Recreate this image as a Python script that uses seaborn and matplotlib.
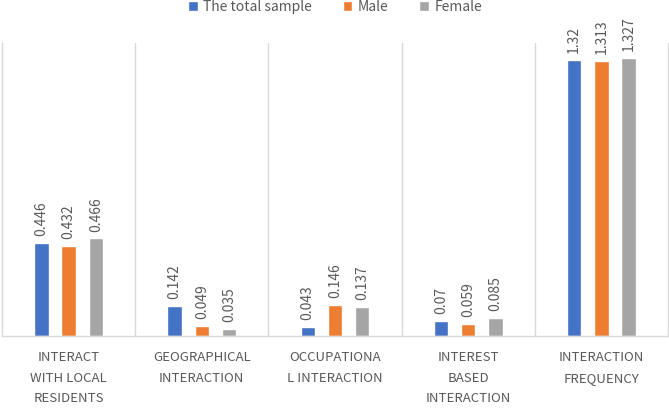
import pandas as pd
import seaborn as sns
import matplotlib.pyplot as plt

categories = ['INTERACT\nWITH LOCAL\nRESIDENTS', 'GEOGRAPHICAL\nINTERACTION',
              'OCCUPATIONA\nL INTERACTION', 'INTEREST\nBASED\nINTERACTION',
              'INTERACTION\nFREQUENCY']
groups = ['The total sample', 'Male', 'Female']
total = [0.446, 0.142, 0.043, 0.07, 1.32]
male = [0.432, 0.049, 0.146, 0.059, 1.313]
female = [0.466, 0.035, 0.137, 0.085, 1.327]
colors = ['#4472C4', '#ED7D31', '#A5A5A5']

rows = []
for g, vals in zip(groups, [total, male, female]):
    for c, v in zip(categories, vals):
        rows.append({'category': c, 'group': g, 'value': v})
df = pd.DataFrame(rows)

sns.set_style('white')
plt.rcParams['font.family'] = ['Noto Sans CJK JP', 'DejaVu Sans']
text_color = '#595959'
grid_color = '#D9D9D9'

fig = plt.figure(figsize=(6.69, 4.08), dpi=100)
ax = fig.add_axes([0.003, 0.1765, 0.9955, 0.718])

sns.barplot(data=df, x='category', y='value', hue='group', palette=colors,
            width=0.614, gap=0.47, saturation=1, ax=ax, legend=True)

for cont in ax.containers:
    ax.bar_label(cont, fmt='%g', rotation=90, padding=5, fontsize=10, color=text_color)

ax.set_ylim(0, 1.4)
ax.set_xlim(-0.5, len(categories) - 0.5)
for i in range(1, len(categories)):
    ax.axvline(i - 0.5, color=grid_color, lw=1, zorder=0)
ax.set_yticks([])
ax.set_xlabel('')
ax.set_ylabel('')
ax.tick_params(axis='x', length=0, pad=11, labelsize=9.5, labelcolor=text_color)
for lab in ax.get_xticklabels():
    lab.set_linespacing(1.75)
    lab.set_verticalalignment('top')
for s in ['left', 'right', 'bottom']:
    ax.spines[s].set_color(grid_color)
    ax.spines[s].set_linewidth(1)
ax.spines['top'].set_visible(False)

ax.legend(loc='center', bbox_to_anchor=(0.5, 1.123), ncol=3, frameon=False,
          fontsize=10, handlelength=0.7, handleheight=0.7, handletextpad=0.4,
          columnspacing=2.2, labelcolor=text_color)

fig.savefig('out.png', dpi=100)
